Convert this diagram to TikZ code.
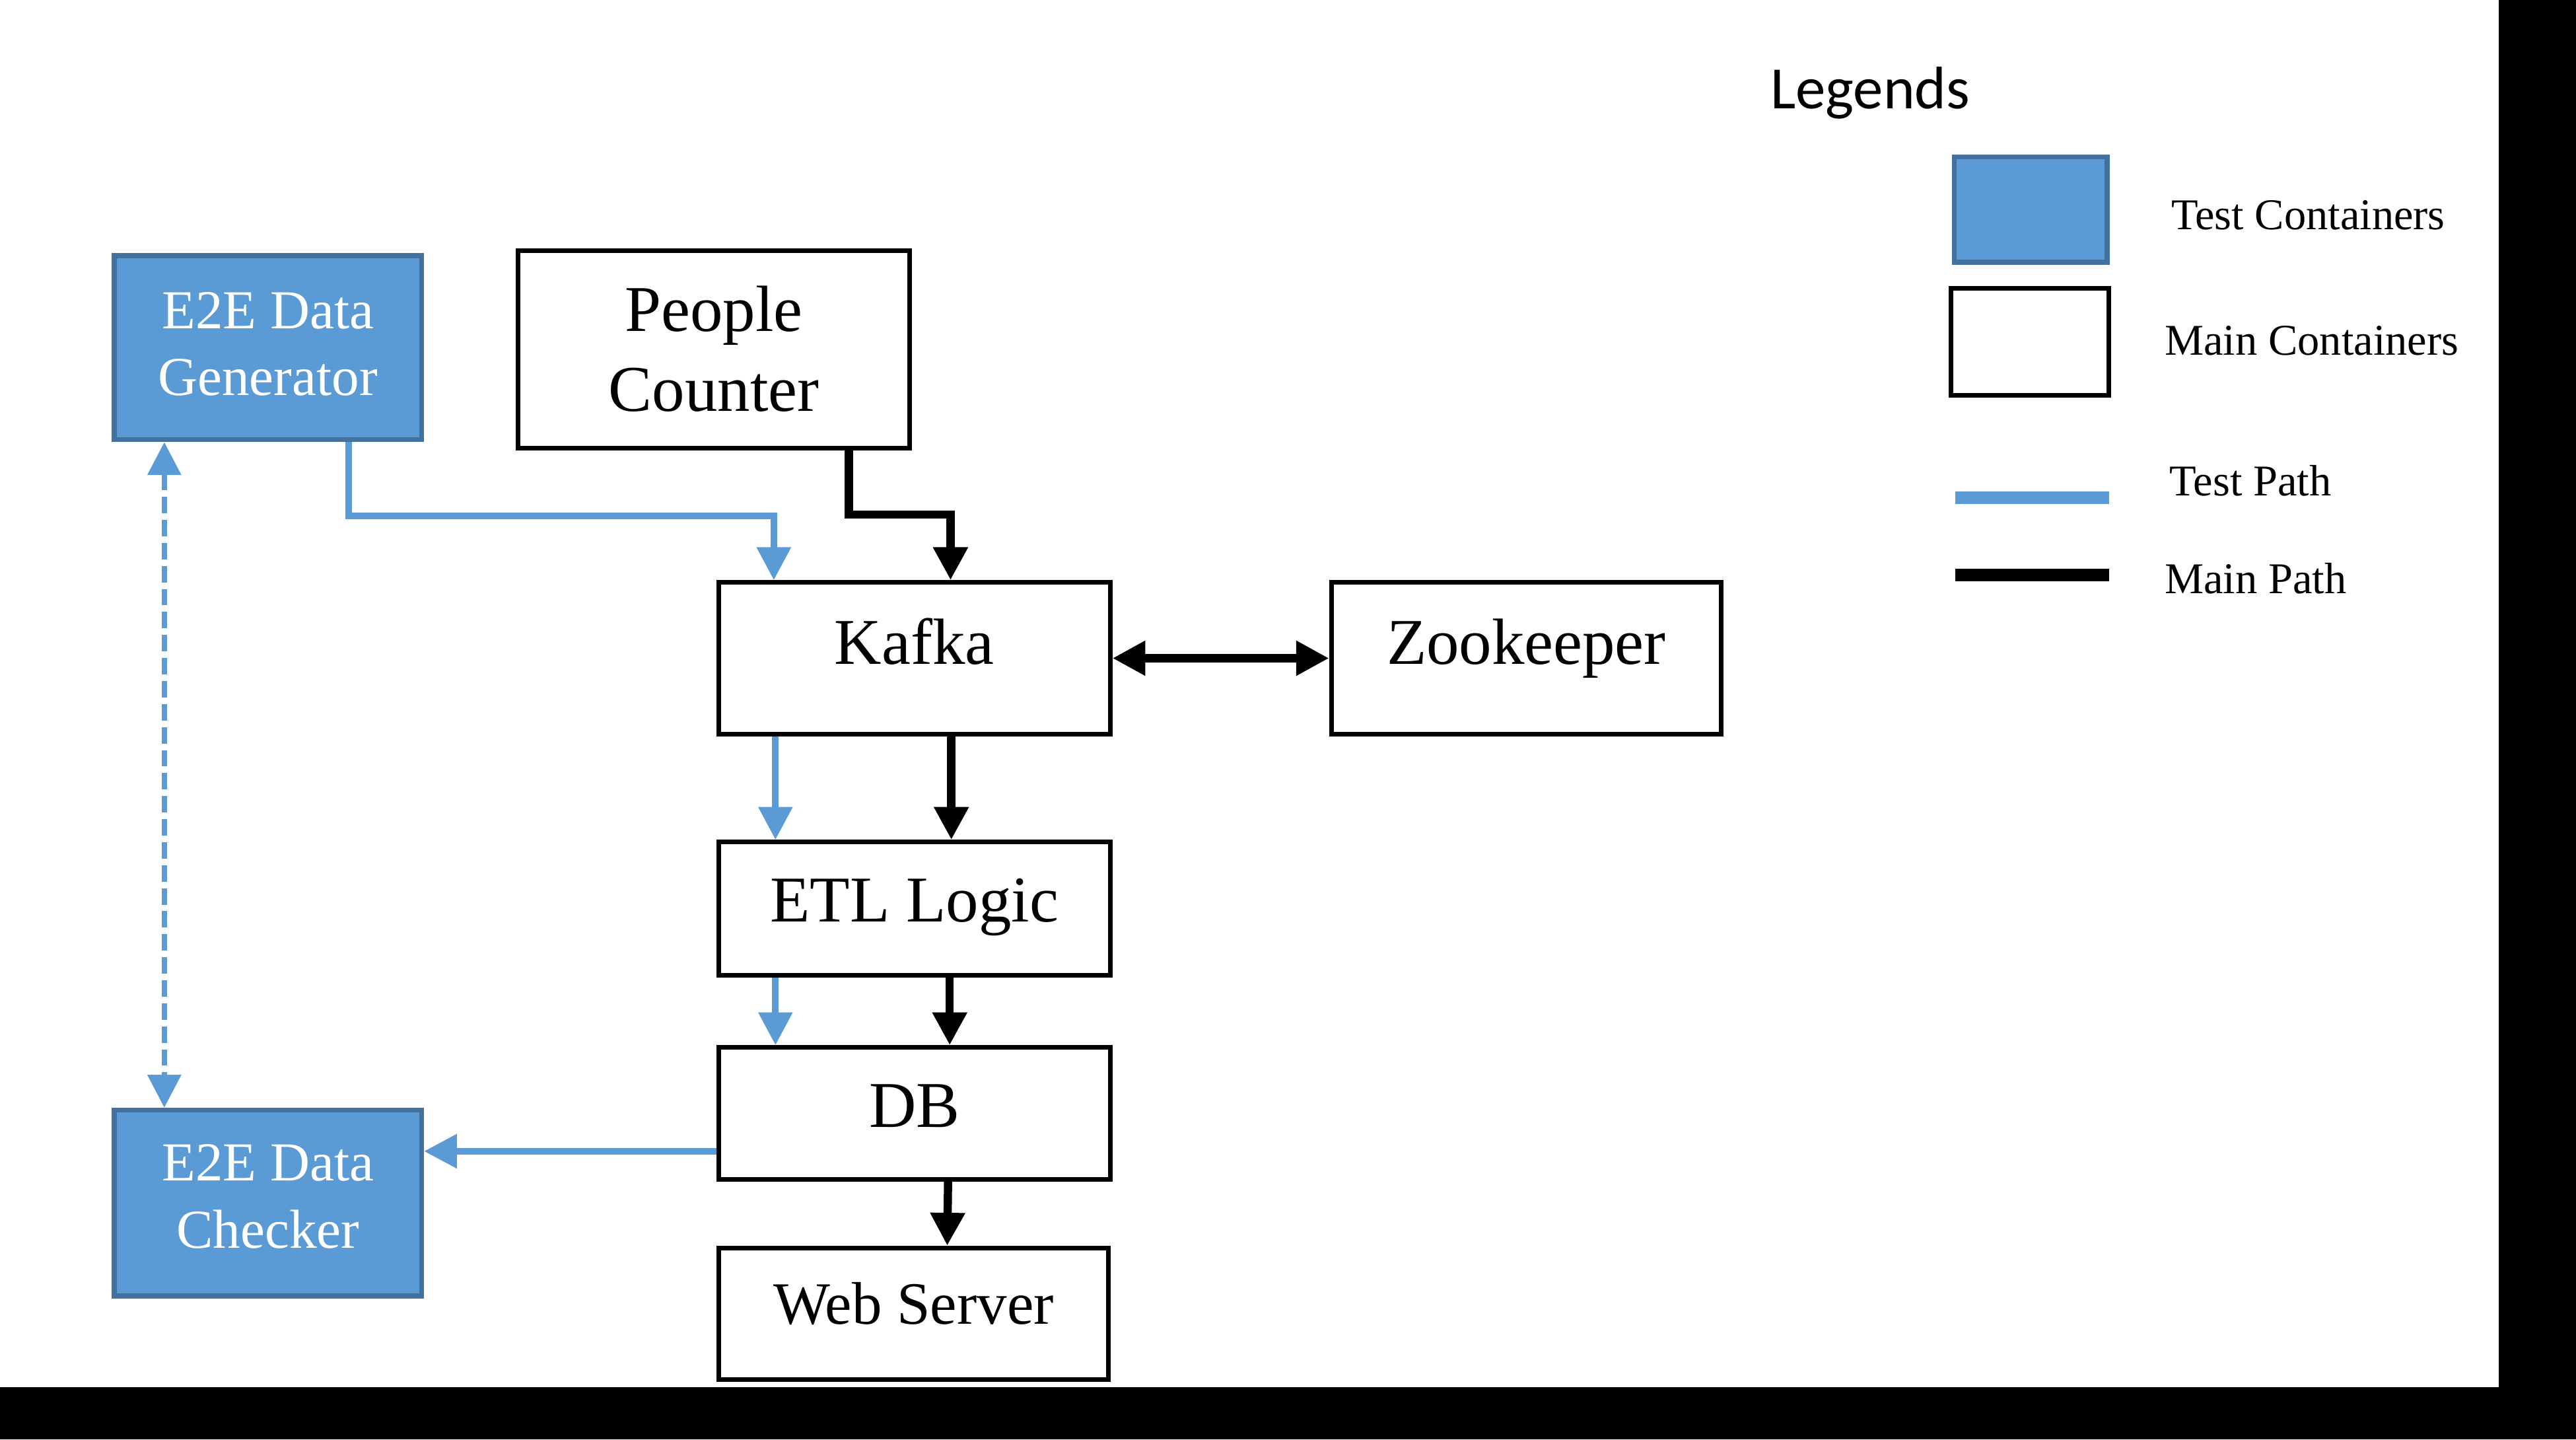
\documentclass[tikz,border=0pt]{standalone}
\usepackage{fontspec}
\usepackage{tikz}
\setmainfont{Liberation Serif}
\newfontfamily\legendfont{Carlito}
\usetikzlibrary{arrows.meta}
\definecolor{testBlue}{HTML}{5B9BD5}
\definecolor{testEdge}{HTML}{41719C}
\tikzset{
    mainBox/.style={draw=black, line width=0.028cm, fill=white, rectangle, inner sep=0pt, anchor=north west, align=center, font={\fontsize{11.3}{13.8}\selectfont}},
    testBox/.style={draw=testEdge, line width=0.03cm, fill=testBlue, rectangle, inner sep=0pt, anchor=north west, align=center, text=white, font={\fontsize{9.5}{11.65}\selectfont}},
    boxDims/.style n args={3}{minimum width=#1cm, text height=#2cm, text depth=#3cm},
    mainPath/.style={black, line width=0.05cm, ->},
    testPath/.style={testBlue, line width=0.04cm, ->},
    legendText/.style={anchor=base west, inner sep=0pt, font={\fontsize{7.6}{9}\selectfont}}
}

\begin{document}
\begin{tikzpicture}[x=0.01cm, y=-0.01cm, >={Triangle[length=0.2cm,width=0.2cm]}]
            \fill[black] (0,0) rectangle (1568,876);
            \fill[white] (0,0) rectangle (1521,844);

            \node[testBox, boxDims={1.87}{0.852}{0.268}] (gen) at (68,154) {E2E Data\\Generator};
            \node[mainBox, boxDims={2.382}{0.976}{0.226}] (counter) at (314,151) {People\\Counter};
            \node[mainBox, boxDims={2.382}{0.496}{0.426}] (kafka) at (436,353) {Kafka};
            \node[mainBox, boxDims={2.372}{0.496}{0.426}] (zoo) at (809,353) {Zookeeper};
            \node[mainBox, boxDims={2.382}{0.486}{0.326}] (etl) at (436,511) {ETL Logic};
            \node[mainBox, boxDims={2.382}{0.486}{0.316}] (db) at (436,636) {DB};
            \node[mainBox, boxDims={2.372}{0.462}{0.34}, font={\fontsize{10.4}{12}\selectfont}] (web) at (436,758) {Web Server};
            \node[testBox, boxDims={1.87}{0.839}{0.291}] (checker) at (68,674) {E2E Data\\Checker};

            \draw[testPath] ([xshift=-0.46cm]gen.south east) -- ++(0,45) -| ([xshift=0.35cm]kafka.north west);
            \draw[mainPath] ([xshift=-0.384cm]counter.south east) -- ++(0,39) -| ([xshift=0.22cm]kafka.north);
            \draw[mainPath, <->] (kafka.east) -- (zoo.west);
            \draw[testPath] ([xshift=0.36cm]kafka.south west) -- ([xshift=0.36cm]etl.north west);
            \draw[mainPath] ([xshift=0.225cm]kafka.south) -- ([xshift=0.225cm]etl.north);
            \draw[testPath] ([xshift=0.36cm]etl.south west) -- ([xshift=0.36cm]db.north west);
            \draw[mainPath] ([xshift=0.215cm]etl.south) -- ([xshift=0.215cm]db.north);
            \draw[mainPath] ([xshift=0.205cm]db.south) -- ([xshift=0.205cm]web.north);
            \draw[testPath] ([yshift=-0.23cm]db.west) -- ([yshift=-0.23cm]db.west -| checker.east);
            \draw[testPath, <->, line width=0.03cm, dash pattern=on 0.1cm off 0.04cm] ([xshift=0.32cm]gen.south west) -- ([xshift=0.32cm]checker.north west);

            \node[anchor=base west, inner sep=0pt, font={\legendfont\fontsize{10.4}{12}\selectfont}] (legTitle) at (1077,66) {Legends};
            \node[testBox, minimum width=0.93cm, minimum height=0.64cm] (legTest) at (1188,94) {};
            \node[mainBox, minimum width=0.962cm, minimum height=0.652cm] (legMain) at (1186,174) {};
            \draw[testBlue, line width=0.076cm] (1190,303) -- (1284,303);
            \draw[black, line width=0.076cm] (1190,350) -- (1284,350);
            \node[legendText] (legTestTxt) at (1321,139.6) {Test Containers};
            \node[legendText] (legMainTxt) at (1317,216) {Main Containers};
            \node[legendText] (legTestPathTxt) at (1320,301.5) {Test Path};
            \node[legendText] (legMainPathTxt) at (1317,361) {Main Path};
\end{tikzpicture}
\end{document}
